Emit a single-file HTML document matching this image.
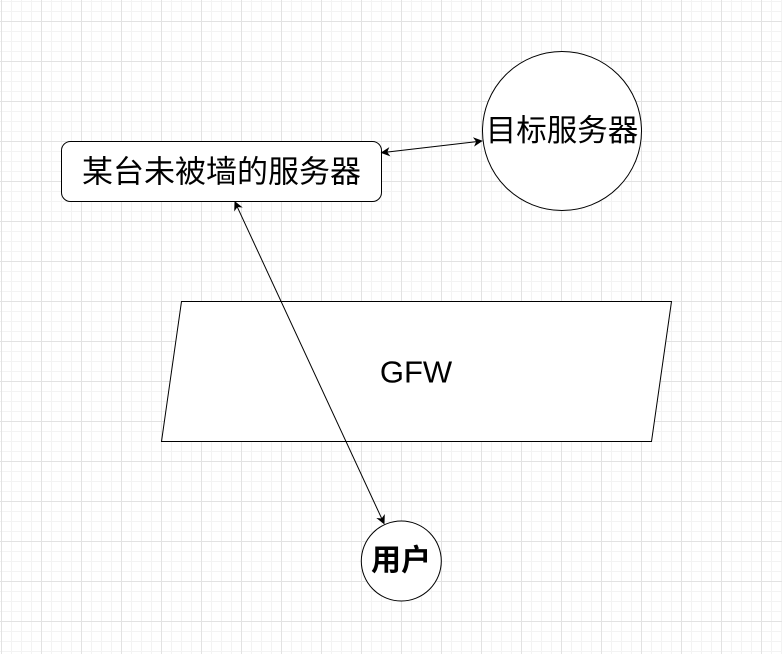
<!DOCTYPE html>
<html>
<head>
<meta charset="utf-8">
<style>
  html,body{margin:0;padding:0;background:#fff;}
  body{width:782px;height:654px;overflow:hidden;}
  svg{display:block;}
  text{font-family:"Liberation Sans","Noto Sans CJK SC",sans-serif;fill:#000;}
</style>
</head>
<body>
<svg width="782" height="654" viewBox="0 0 782 654" xmlns="http://www.w3.org/2000/svg">
  <defs>
    <pattern id="minor" x="1" y="1" width="10" height="10" patternUnits="userSpaceOnUse">
      <rect x="0" y="0" width="1" height="10" fill="#f3f3f3"/>
      <rect x="0" y="0" width="10" height="1" fill="#f3f3f3"/>
    </pattern>
    <pattern id="major" x="1" y="21" width="40" height="40" patternUnits="userSpaceOnUse">
      <rect x="0" y="0" width="1" height="40" fill="#e2e2e2"/>
      <rect x="0" y="0" width="40" height="1" fill="#e2e2e2"/>
    </pattern>
  </defs>
  <rect width="782" height="654" fill="#fff"/>
  <rect width="782" height="654" fill="url(#minor)"/>
  <rect width="782" height="654" fill="url(#major)"/>

  <!-- GFW parallelogram -->
  <polygon points="181.5,301.5 671.5,301.5 651.5,441.5 161.5,441.5" fill="#fff" stroke="#000" stroke-width="1"/>
  <text x="416" y="372" font-size="31" text-anchor="middle" dominant-baseline="central">GFW</text>

  <!-- Server rounded rect -->
  <rect x="61.5" y="141.5" width="320" height="60" rx="9" ry="9" fill="#fff" stroke="#000" stroke-width="1"/>
  <text x="221.5" y="172" font-size="31" text-anchor="middle" dominant-baseline="central">某台未被墙的服务器</text>

  <!-- Target server circle -->
  <circle cx="562" cy="131" r="79.5" fill="#fff" stroke="#000" stroke-width="1"/>
  <text x="562" y="131" font-size="30.5" text-anchor="middle" dominant-baseline="central">目标服务器</text>

  <!-- User circle -->
  <circle cx="401.3" cy="561" r="40" fill="#fff" stroke="#000" stroke-width="1"/>
  <text x="401" y="561" font-size="30" font-weight="bold" text-anchor="middle" dominant-baseline="central">用户</text>

  <!-- Edge 1: rect <-> target -->
  <line x1="386.67" y1="152.12" x2="476.74" y2="141.58" stroke="#000" stroke-width="1"/>
  <polygon points="481.7,141 475.16,145.29 476.74,141.58 474.34,138.33" fill="#000" stroke="#000" stroke-width="1" stroke-linejoin="miter"/>
  <polygon points="381.7,152.7 389.06,155.37 386.67,152.12 388.24,148.41" fill="#000" stroke="#000" stroke-width="1" stroke-linejoin="miter"/>

  <!-- Edge 2: rect <-> user -->
  <line x1="237.10" y1="206.54" x2="381.90" y2="518.96" stroke="#000" stroke-width="1"/>
  <polygon points="235,202 241.12,206.88 237.10,206.54 234.77,209.82" fill="#000" stroke="#000" stroke-width="1" stroke-linejoin="miter"/>
  <polygon points="384,523.5 384.24,515.68 381.90,518.96 377.89,518.62" fill="#000" stroke="#000" stroke-width="1" stroke-linejoin="miter"/>
</svg>
</body>
</html>
